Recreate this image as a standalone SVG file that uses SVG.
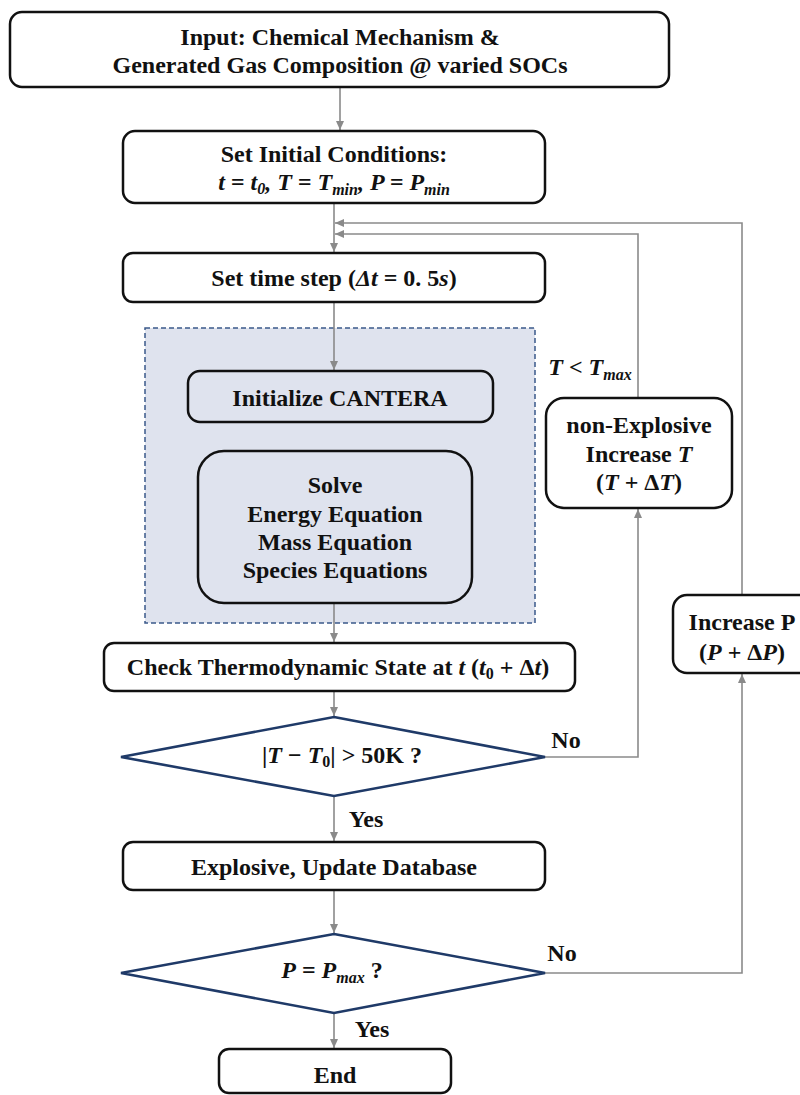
<svg xmlns="http://www.w3.org/2000/svg" width="800" height="1095" viewBox="0 0 800 1095">
<defs>
<marker id="arr" markerUnits="userSpaceOnUse" markerWidth="10" markerHeight="8" refX="9" refY="4" orient="auto">
<path d="M0,0 L9,4 L0,8 Z" fill="#8a8a8a"/>
</marker>
<style>
.box{fill:#fff;stroke:#111;stroke-width:2.5}
.inbox{fill:#dfe3ee;stroke:#111;stroke-width:2.5}
.dia{fill:#fff;stroke:#1f3a68;stroke-width:2.6}
.con{fill:none;stroke:#8a8a8a;stroke-width:1.6}
text{font-family:'Liberation Serif',serif}
.t{font-weight:bold;font-size:24px;fill:#111;text-anchor:middle}
.i{font-style:italic}
.s{font-size:16px}
</style>
</defs>
<g font-family="Liberation Serif, serif">
<rect id="group-box" x="145" y="328" width="390" height="295" fill="#dfe3ee" stroke="#3b5a8a" stroke-width="1.5" stroke-dasharray="5,3"/>
<g id="connectors">
<path class="con" d="M340,87 V130" marker-end="url(#arr)"/>
<path class="con" d="M334,203 V252" marker-end="url(#arr)"/>
<path class="con" d="M334,302 V370" marker-end="url(#arr)"/>
<path class="con" d="M334,603 V642" marker-end="url(#arr)"/>
<path class="con" d="M334,691 V716" marker-end="url(#arr)"/>
<path class="con" d="M334,796 V841" marker-end="url(#arr)"/>
<path class="con" d="M334,890 V933" marker-end="url(#arr)"/>
<path class="con" d="M334,1013 V1048" marker-end="url(#arr)"/>
<path class="con" d="M545,757 H638 V509" marker-end="url(#arr)"/>
<path class="con" d="M638,398 V234 H335" marker-end="url(#arr)"/>
<path class="con" d="M545,973 H742 V674" marker-end="url(#arr)"/>
<path class="con" d="M742,595 V223 H335" marker-end="url(#arr)"/>
</g>
<g id="input">
<rect class="box" x="10" y="12" width="659" height="75" rx="12"/>
<text class="t" x="340" y="45">Input: Chemical Mechanism &amp;</text>
<text class="t" x="340" y="73">Generated Gas Composition @ varied SOCs</text>
</g>
<g id="init">
<rect class="box" x="123" y="131" width="422" height="72" rx="12"/>
<text class="t" x="334" y="162">Set Initial Conditions:</text>
<text class="t i" x="334" y="190">t = t<tspan class="s" dy="4">0</tspan><tspan dy="-4">, T = T</tspan><tspan class="s" dy="5">min</tspan><tspan dy="-5">, P = P</tspan><tspan class="s" dy="5">min</tspan></text>
</g>
<g id="timestep">
<rect class="box" x="123" y="253" width="422" height="49" rx="10"/>
<text class="t" x="334" y="286">Set time step (<tspan class="i">Δt</tspan> = 0. 5<tspan class="i">s</tspan>)</text>
</g>
<g id="cantera">
<rect class="inbox" x="188" y="371" width="305" height="51" rx="12"/>
<text class="t" x="340" y="406">Initialize CANTERA</text>
</g>
<g id="solve">
<rect class="inbox" x="198" y="451" width="274" height="152" rx="26"/>
<text class="t" x="335" y="493">Solve</text>
<text class="t" x="335" y="522">Energy Equation</text>
<text class="t" x="335" y="550">Mass Equation</text>
<text class="t" x="335" y="578">Species Equations</text>
</g>
<g id="check">
<rect class="box" x="104" y="643" width="471" height="48" rx="10"/>
<text class="t" x="338" y="675">Check Thermodynamic State at <tspan class="i">t</tspan> (<tspan class="i">t</tspan><tspan class="s" dy="4">0</tspan><tspan dy="-4"> +  Δ</tspan><tspan class="i">t</tspan>)</text>
</g>
<g id="cond1">
<polygon class="dia" points="334,717 545,757 334,796 121,757"/>
<text class="t" x="342" y="763">|<tspan class="i">T</tspan> − <tspan class="i">T</tspan><tspan class="s" dy="4">0</tspan><tspan dy="-4">| &gt; 50K ?</tspan></text>
</g>
<g id="nonexp">
<rect class="box" x="546" y="398" width="186" height="110" rx="18"/>
<text class="t" x="639" y="433">non-Explosive</text>
<text class="t" x="639" y="462">Increase <tspan class="i">T</tspan></text>
<text class="t" x="639" y="490">(<tspan class="i">T</tspan> + Δ<tspan class="i">T</tspan>)</text>
</g>
<g id="incp">
<rect class="box" x="673" y="595" width="140" height="78" rx="14"/>
<text class="t" x="742" y="630">Increase P</text>
<text class="t" x="742" y="660">(<tspan class="i">P</tspan> + Δ<tspan class="i">P</tspan>)</text>
</g>
<g id="explosive">
<rect class="box" x="123" y="842" width="422" height="48" rx="10"/>
<text class="t" x="334" y="875">Explosive, Update Database</text>
</g>
<g id="cond2">
<polygon class="dia" points="334,934 545,973 334,1013 121,973"/>
<text class="t" x="332" y="978"><tspan class="i">P</tspan> = <tspan class="i">P</tspan><tspan class="s i" dy="5">max</tspan><tspan dy="-5"> ?</tspan></text>
</g>
<g id="end">
<rect class="box" x="219" y="1049" width="232" height="44" rx="10"/>
<text class="t" x="335" y="1083">End</text>
</g>
<g id="labels">
<text class="t i" x="590" y="375">T &lt; T<tspan class="s" dy="5">max</tspan></text>
<text class="t" x="566" y="748">No</text>
<text class="t" x="562" y="961">No</text>
<text class="t" x="366" y="827">Yes</text>
<text class="t" x="372" y="1037">Yes</text>
</g>
</g>
</svg>
